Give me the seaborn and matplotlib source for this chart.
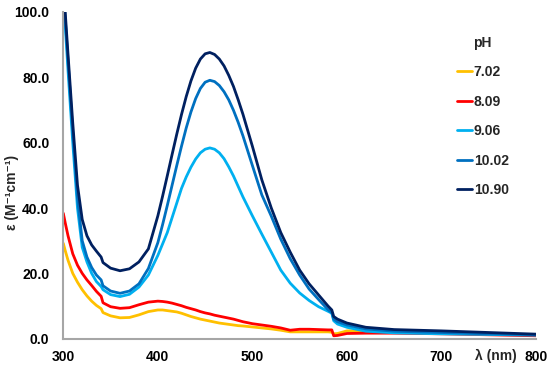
import pandas as pd
import matplotlib
matplotlib.use("Agg")
import matplotlib.pyplot as plt
import seaborn as sns

# wavelengths (nm) shared by all spectra
wl = [300, 302, 305, 310, 315, 320, 325, 330, 335, 340, 342, 350, 360, 370, 380, 390,
      400, 405, 410, 415, 420, 425, 430, 435, 440, 445, 450, 455, 460, 465, 470, 475, 480, 485, 490,
      500, 510, 520, 530, 540, 550, 560, 570, 580, 584, 586, 590, 600, 620, 650, 700, 750, 800]

eps_702 = [29.2, 27.0, 24.0, 20.0, 17.3, 15.0, 13.1, 11.5, 10.2, 9.2, 8.0, 7.0, 6.4, 6.5, 7.3, 8.3,
           8.8, 8.8, 8.6, 8.4, 8.2, 7.8, 7.3, 6.8, 6.4, 6.0, 5.7, 5.4, 5.1, 4.8, 4.6, 4.4, 4.2, 4.0, 3.9,
           3.6, 3.3, 3.0, 2.6, 2.1, 2.1, 2.1, 2.1, 2.1, 2.0, 1.5, 1.6, 2.4, 2.5, 2.3, 2.0, 1.6, 1.0]
eps_809 = [38.4, 35.5, 31.5, 26.0, 22.5, 20.0, 18.0, 16.3, 14.5, 13.0, 11.0, 9.8, 9.3, 9.5, 10.4, 11.2,
           11.5, 11.4, 11.2, 10.9, 10.5, 10.1, 9.6, 9.2, 8.8, 8.3, 7.9, 7.6, 7.2, 6.9, 6.6, 6.3, 6.0, 5.6, 5.2,
           4.6, 4.2, 3.8, 3.3, 2.6, 2.9, 2.9, 2.8, 2.7, 2.7, 0.9, 1.0, 1.6, 1.7, 1.7, 1.5, 1.2, 0.9]
eps_906 = [104, 96, 82, 60, 40, 28, 23.5, 20.0, 17.5, 16.0, 15.0, 13.5, 12.9, 13.6, 15.8, 19.5,
           25.5, 29.0, 32.5, 37.0, 41.5, 46.0, 49.5, 52.5, 55.0, 56.9, 58.0, 58.4, 58.0, 56.9, 55.1, 52.6, 49.8, 46.6, 43.4,
           37.6, 32.0, 26.5, 21.0, 17.0, 14.0, 11.7, 9.8, 8.4, 7.8, 5.5, 4.5, 3.5, 2.3, 1.8, 1.5, 1.3, 1.1]
eps_1002 = [106, 98, 85, 63, 43, 30, 25, 21.8, 19.5, 18.0, 16.2, 14.6, 13.9, 14.6, 16.8, 21.5,
            29.4, 34.9, 40.8, 46.9, 53.0, 58.9, 64.5, 69.4, 73.5, 76.6, 78.5, 79.1, 78.7, 77.5, 75.6, 73.1, 69.9, 66.2, 62.1,
            53.0, 44.0, 37.5, 30.5, 24.5, 19.5, 15.2, 12.0, 8.9, 8.0, 6.0, 5.2, 4.2, 3.0, 2.3, 1.9, 1.5, 1.2]
eps_1090 = [108, 100, 87, 66, 47, 36.5, 31.5, 28.7, 26.8, 25.0, 23.3, 21.6, 20.8, 21.4, 23.5, 27.5,
            37.6, 43.6, 49.9, 56.3, 62.6, 68.6, 74.1, 78.9, 82.8, 85.6, 87.2, 87.6, 87.0, 85.6, 83.5, 80.6, 77.2, 73.1, 68.7,
            58.9, 48.6, 40.0, 32.5, 26.5, 21.0, 16.8, 13.4, 10.0, 8.8, 6.8, 6.0, 4.8, 3.5, 2.8, 2.4, 1.9, 1.4]

ph_labels = ["7.02", "8.09", "9.06", "10.02", "10.90"]
colors = ["#FFC000", "#FF0000", "#00B0F0", "#0070C0", "#002060"]

frames = []
for lab, vals in zip(ph_labels, [eps_702, eps_809, eps_906, eps_1002, eps_1090]):
    frames.append(pd.DataFrame({"wl": wl, "eps": vals, "pH": lab}))
df = pd.concat(frames, ignore_index=True)

sns.set_style("white")
plt.rcParams["font.family"] = ["Liberation Sans", "DejaVu Sans"]
plt.rcParams["font.weight"] = "bold"

fig = plt.figure(figsize=(5.5, 3.71), dpi=100)
ax = fig.add_axes([0.1151, 0.087, 0.8595, 0.8807])

sns.lineplot(data=df, x="wl", y="eps", hue="pH", hue_order=ph_labels,
             palette=colors, estimator=None, linewidth=2, ax=ax)

ax.set_xlim(300, 800)
ax.set_ylim(0, 100)
ax.set_xticks(range(300, 801, 100))
ax.set_yticks(range(0, 101, 20))
ax.set_yticklabels([f"{v:.1f}" for v in range(0, 101, 20)])

for s in ["top", "right"]:
    ax.spines[s].set_visible(False)
for s in ["left", "bottom"]:
    ax.spines[s].set_color("#A6A6A6")
    ax.spines[s].set_linewidth(1.5)

ax.tick_params(axis="both", direction="out", length=4, width=1, color="#A6A6A6",
               labelsize=10, labelcolor="black")
ax.tick_params(axis="y", pad=6)
ax.tick_params(axis="x", pad=4)
for t in ax.get_xticklabels() + ax.get_yticklabels():
    t.set_fontweight("bold")

ax.set_xlabel("λ (nm)", fontsize=10, fontweight="bold")
ax.xaxis.set_label_coords(0.915, -0.03)
ax.set_ylabel("ε (M⁻¹cm⁻¹)", fontsize=10, fontweight="bold")
ax.yaxis.set_label_coords(-0.094, 0.449)

handles, labels = ax.get_legend_handles_labels()
leg = ax.legend(handles, labels, title="pH", frameon=False, loc="upper left",
                bbox_to_anchor=(444 / 550, 1 - 23 / 371), bbox_transform=fig.transFigure,
                fontsize=10, title_fontsize=10, handlelength=1.1, handletextpad=0.15,
                labelspacing=1.12, borderpad=0.4)
leg.get_title().set_fontweight("bold")
for t in leg.get_texts():
    t.set_fontweight("bold")
for h in leg.get_lines():
    h.set_linewidth(2)

fig.savefig("out.png", dpi=100)
